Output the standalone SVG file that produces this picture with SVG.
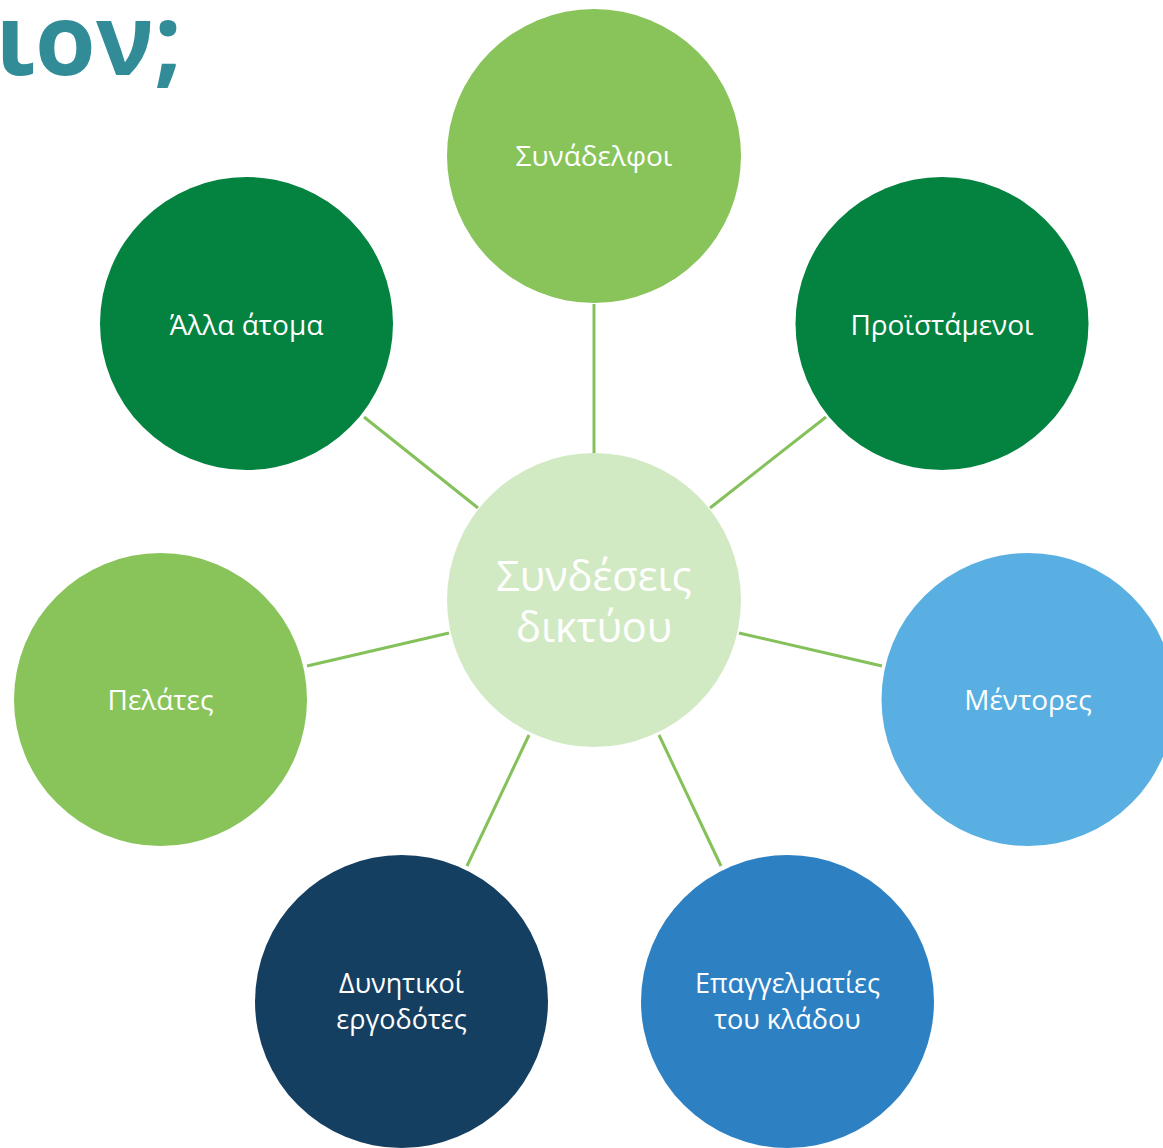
<svg xmlns="http://www.w3.org/2000/svg" width="1163" height="1148" viewBox="0 0 1163 1148">
<style>
.lbl{font-family:"Open Sans","Noto Sans","DejaVu Sans",sans-serif;font-size:28px;fill:#fff;text-anchor:middle}
.lbl2{font-family:"Open Sans","Noto Sans","DejaVu Sans",sans-serif;font-size:27px;fill:#fff;text-anchor:middle}
.ctr{font-family:"Open Sans","Noto Sans","DejaVu Sans",sans-serif;font-size:41.5px;fill:#fff;text-anchor:middle}
.con line{stroke:#84C15A;stroke-width:3}
</style>
<rect width="1163" height="1148" fill="#fff"/>
<text x="182" y="75" font-family="'Open Sans','Noto Sans',sans-serif" font-weight="bold" font-size="98" fill="#318C98" text-anchor="end">ιον;</text>
<g class="con" id="connectors">
<line x1="594" y1="304" x2="594" y2="454"/>
<line x1="364" y1="417" x2="478" y2="508"/>
<line x1="826" y1="417" x2="710" y2="508"/>
<line x1="307" y1="666" x2="449" y2="633"/>
<line x1="739" y1="633" x2="882" y2="666"/>
<line x1="467" y1="866" x2="529" y2="735"/>
<line x1="659" y1="735" x2="721" y2="866"/>
</g>
<g id="center"><circle cx="594" cy="600" r="147" fill="#D2EAC4"/><text class="ctr" x="594" y="591">Συνδέσεις</text><text class="ctr" x="594" y="642">δικτύου</text></g>
<g id="n-synadelfoi"><circle cx="594" cy="156" r="147" fill="#88C45A"/><text class="lbl" x="594" y="166">Συνάδελφοι</text></g>
<g id="n-alla"><circle cx="246.5" cy="323.5" r="146.5" fill="#038240"/><text class="lbl" x="246.5" y="335">Άλλα άτομα</text></g>
<g id="n-proistamenoi"><circle cx="942" cy="323.5" r="146.5" fill="#038240"/><text class="lbl" x="942" y="335">Προϊστάμενοι</text></g>
<g id="n-pelates"><circle cx="160.5" cy="699.5" r="146.5" fill="#88C45A"/><text class="lbl" x="160.5" y="710">Πελάτες</text></g>
<g id="n-mentores"><circle cx="1028" cy="699.5" r="146.5" fill="#59AFE1"/><text class="lbl" x="1028" y="710">Μέντορες</text></g>
<g id="n-ergodotes"><circle cx="401.5" cy="1001.5" r="146.5" fill="#153F61"/><text class="lbl2" x="401.5" y="993">Δυνητικοί</text><text class="lbl2" x="401.5" y="1029">εργοδότες</text></g>
<g id="n-epaggelmaties"><circle cx="787.5" cy="1001.5" r="146.5" fill="#2D81C3"/><text class="lbl2" x="787.5" y="993">Επαγγελματίες</text><text class="lbl2" x="787.5" y="1029">του κλάδου</text></g>
</svg>
